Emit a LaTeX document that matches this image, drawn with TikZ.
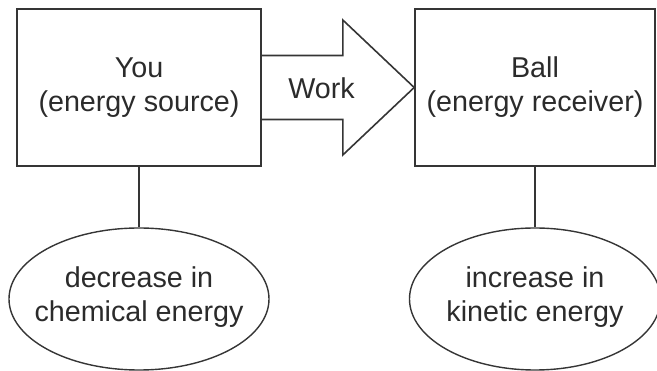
\documentclass[tikz,border=0pt]{standalone}
\usepackage{fontspec}
\setmainfont{Liberation Sans}
\usetikzlibrary{shapes.geometric,calc}
\definecolor{ink}{HTML}{2B2B2B}
\definecolor{edge}{HTML}{353535}
\begin{document}
\begin{tikzpicture}[x=1pt,y=-1pt,
  lbl/.style={align=center,text=ink,inner sep=0pt,
    font=\fontsize{28.7}{34}\selectfont},
  boxnode/.style={draw=edge,line width=1.6pt,inner sep=0pt,rectangle},
  ellnode/.style={draw=edge,line width=1.4pt,inner sep=0pt,ellipse},
  wire/.style={draw=edge,line width=1.6pt}]
\useasboundingbox (0,0) rectangle (657,371);

% boxes for the source and the receiver
\node[boxnode,minimum width=244pt,minimum height=157pt] (src) at (139,87.5) {};
\node[lbl] (srctxt) at (src) {You\\(energy source)};
\node[boxnode,minimum width=240pt,minimum height=157pt] (rcv) at (535,87.5) {};
\node[lbl] (rcvtxt) at (rcv) {Ball\\(energy receiver)};

% energy change ellipses
\node[ellnode,minimum width=260pt,minimum height=142pt] (chem) at (139,299) {};
\node[lbl] (chemtxt) at (139,297) {decrease in\\chemical energy};
\node[ellnode,minimum width=251pt,minimum height=142pt] (kin) at (535,299) {};
\node[lbl] (kintxt) at (535,297) {increase in\\kinetic energy};

% links from the boxes to the ellipses
\draw[wire] (src.south) -- (chem.north);
\draw[wire] (rcv.south) -- (kin.north);

% block arrow for the work done
\draw[wire,line join=miter]
  ($(src.east)+(0,-32)$) -- ($(src.east)+(81,-32)$) -- ($(src.east)+(81,-67.5)$)
  -- (rcv.west)
  -- ($(src.east)+(81,67.5)$) -- ($(src.east)+(81,32)$) -- ($(src.east)+(0,32)$);
\node[lbl] (work) at (321.5,88) {Work};
\end{tikzpicture}
\end{document}
